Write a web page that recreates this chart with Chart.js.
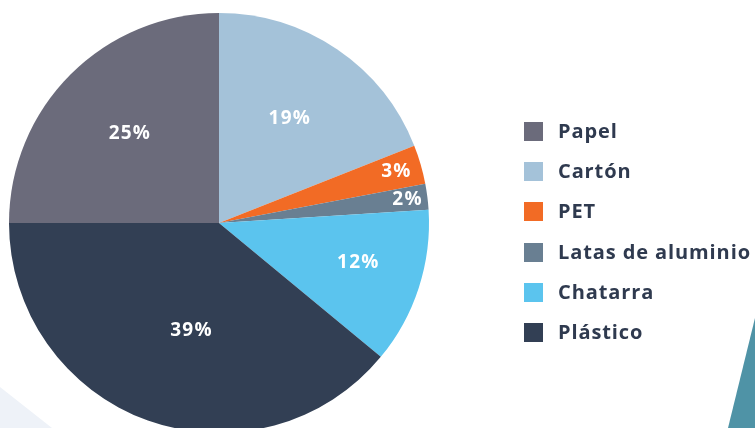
<!DOCTYPE html>
<html>
<head>
<meta charset="utf-8">
<script src="https://cdn.jsdelivr.net/npm/chart.js@4.4.0/dist/chart.umd.min.js"></script>
<style>
  html, body { margin: 0; padding: 0; background: #fff; overflow: hidden; }
  body { width: 755px; height: 428px; position: relative; }
  #bg { position: absolute; left: 0; top: 0; }
  #wrap { position: absolute; left: 0; top: 0; width: 438px; height: 446px; }
  #legend { position: absolute; left: 524px; top: 121px; margin: 0; padding: 0; list-style: none;
            font-family: "Open Sans", sans-serif; font-weight: 700; font-size: 20px; letter-spacing: 0.9px; color: #2f3a4f; }
  #legend li { height: 40.2px; display: flex; align-items: flex-start; white-space: nowrap; }
  #legend span.box { display: inline-block; width: 19px; height: 19px; margin-right: 15px; margin-top: 1px; }
  #legend span.txt { line-height: 20px; }
</style>
</head>
<body>
<canvas id="bg" width="755" height="428"></canvas>
<div id="wrap"><canvas id="pie-residuos"></canvas></div>
<ul id="legend"></ul>
<script>
var categorias = ["Papel", "Cartón", "PET", "Latas de aluminio", "Chatarra", "Plástico"];
var porcentajes = [25, 19, 3, 2, 12, 39];
var colores = ["#6b6b7b", "#a4c2d9", "#f26b25", "#697f92", "#5bc4ee", "#323f54"];

// decorative corners behind the chart
var bg = document.getElementById("bg").getContext('2d');
bg.fillStyle = "#eef2f8";
bg.beginPath();
bg.moveTo(0, 387); bg.lineTo(52, 428); bg.lineTo(0, 428);
bg.closePath(); bg.fill();
bg.fillStyle = "#4f93a6";
bg.beginPath();
bg.moveTo(755, 318); bg.lineTo(728, 428); bg.lineTo(755, 428);
bg.closePath(); bg.fill();

// where each percentage sits: fraction of radius, and a small turn (degrees)
var labelRadio = [0.60, 0.60, 0.88, 0.905, 0.69, 0.53];
var labelGiro = [0, 0, 0, 0, -2, -5.5];

var etiquetas = {
  id: 'etiquetas',
  afterDatasetsDraw: function(chart) {
    var ctx = chart.ctx;
    var meta = chart.getDatasetMeta(0);
    ctx.save();
    ctx.fillStyle = "#ffffff";
    ctx.font = "700 19px 'Open Sans', sans-serif";
    ctx.letterSpacing = "1.2px";
    ctx.textAlign = "center";
    ctx.textBaseline = "middle";
    meta.data.forEach(function(arc, i) {
      var mid = (arc.startAngle + arc.endAngle) / 2 + labelGiro[i] * Math.PI / 180;
      var r = arc.outerRadius * labelRadio[i];
      var x = arc.x + Math.cos(mid) * r;
      var y = arc.y + Math.sin(mid) * r;
      ctx.fillText(chart.data.datasets[0].data[i] + "%", x, y);
    });
    ctx.restore();
  }
};

var ctxp = document.getElementById("pie-residuos").getContext('2d');
var pieChart = new Chart(ctxp, {
  type: 'pie',
  data: {
    labels: categorias,
    datasets: [{
      data: porcentajes,
      backgroundColor: colores,
      borderWidth: 0
    }]
  },
  options: {
    responsive: true,
    maintainAspectRatio: false,
    animation: false,
    rotation: -90,
    layout: { padding: 9 },
    plugins: {
      legend: { display: false },
      tooltip: { enabled: false }
    }
  },
  plugins: [etiquetas]
});

// legend list built from the chart data
var ul = document.getElementById("legend");
pieChart.data.labels.forEach(function(lbl, i) {
  var li = document.createElement("li");
  li.innerHTML = '<span class="box" style="background:' + colores[i] + '"></span><span class="txt">' + lbl + '</span>';
  ul.appendChild(li);
});
</script>
</body>
</html>
